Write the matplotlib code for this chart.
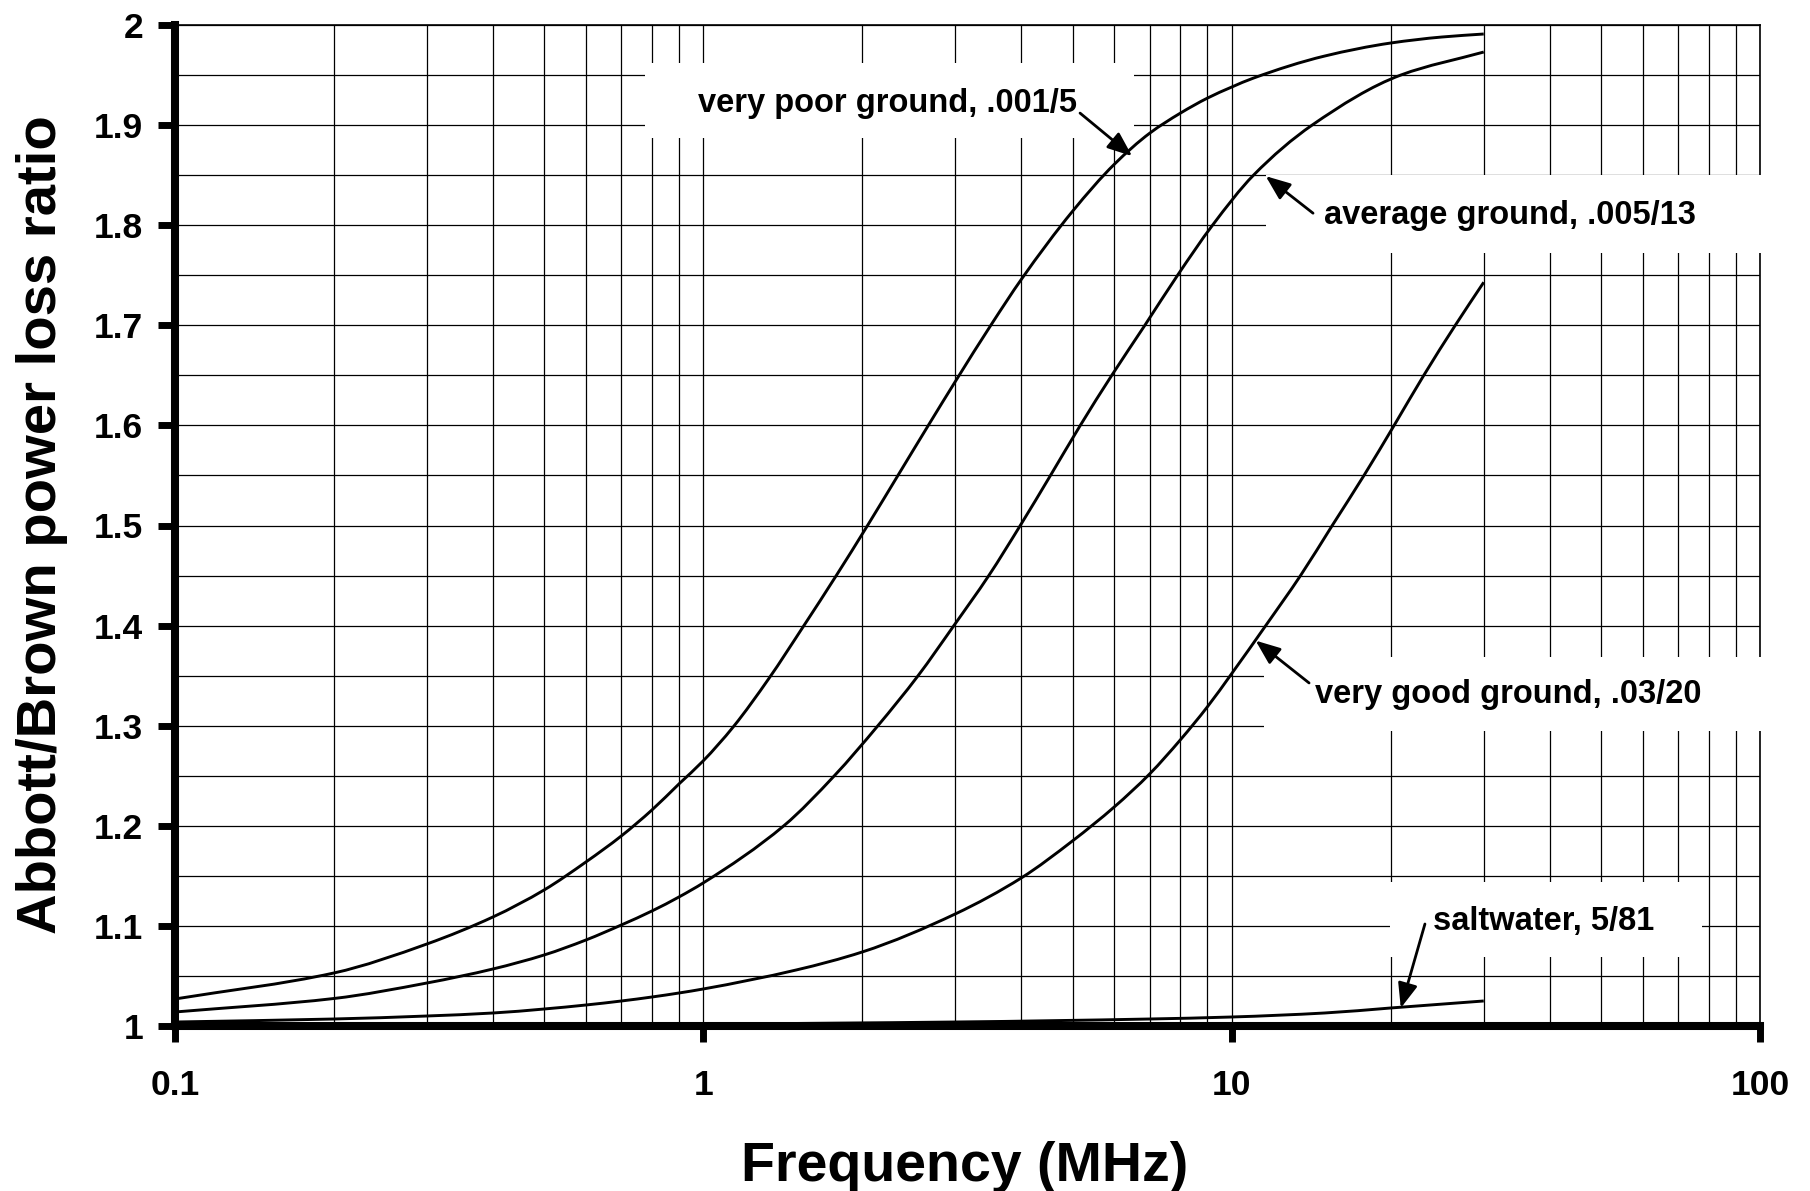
import numpy as np
import matplotlib
matplotlib.use("Agg")
import matplotlib.pyplot as plt
from matplotlib.patches import Rectangle, PathPatch
from matplotlib.path import Path

plt.rcParams['font.family'] = ['Liberation Sans', 'DejaVu Sans']
plt.rcParams['font.weight'] = 'bold'

# Abbott/Brown power loss ratio vs frequency for four ground types
freq_very_poor = [0.1, 0.2, 0.3, 0.4, 0.5, 0.6, 0.7, 0.8, 0.9, 1.0, 1.14, 1.33, 1.55,
                  1.785, 2.04, 2.36, 2.68, 3.0, 3.52, 4.0, 5.0, 6.0, 7.0, 8.0, 9.0,
                  10.0, 11.0, 15.0, 20.0, 25.0, 30.0]
ratio_very_poor = [1.027, 1.053, 1.082, 1.109, 1.136, 1.164, 1.190, 1.216, 1.242, 1.265,
                   1.299, 1.347, 1.400, 1.450, 1.499, 1.554, 1.602, 1.644, 1.702, 1.746,
                   1.814, 1.861, 1.892, 1.912, 1.927, 1.938, 1.947, 1.969, 1.982, 1.988,
                   1.991]

freq_average = [0.1, 0.2, 0.3, 0.4, 0.5, 0.6, 0.7, 0.8, 0.9, 1.0, 1.42, 1.77, 2.14,
                2.55, 2.98, 3.47, 3.98, 4.54, 5.17, 5.93, 6.85, 7.9, 9.2, 11.0, 14.2,
                20.9, 30.0]
ratio_average = [1.014, 1.0275, 1.043, 1.057, 1.071, 1.086, 1.101, 1.115, 1.129, 1.143,
                 1.200, 1.250, 1.300, 1.350, 1.400, 1.450, 1.500, 1.550, 1.600, 1.650,
                 1.700, 1.750, 1.800, 1.850, 1.900, 1.950, 1.973]

freq_very_good = [0.1, 0.2, 0.3, 0.4, 0.5, 0.6, 0.7, 0.8, 0.9, 1.0, 1.5, 2.0, 3.0, 4.0,
                  5.0, 6.0, 7.0, 8.0, 9.0, 10.0, 11.6, 13.5, 15.5, 17.8, 20.3, 23.1,
                  26.5, 30.0]
ratio_very_good = [1.004, 1.007, 1.010, 1.013, 1.017, 1.021, 1.025, 1.029, 1.033, 1.037,
                   1.056, 1.074, 1.112, 1.148, 1.185, 1.219, 1.252, 1.286, 1.319, 1.352,
                   1.400, 1.450, 1.500, 1.550, 1.600, 1.650, 1.700, 1.743]

freq_saltwater = [0.1, 1.0, 3.0, 7.0, 10.0, 15.0, 20.0, 30.0]
ratio_saltwater = [1.001, 1.002, 1.004, 1.007, 1.009, 1.013, 1.018, 1.025]

x_tick_values = [0.1, 1, 10, 100]
x_tick_labels = ['0.1', '1', '10', '100']
x_minor_values = [0.2, 0.3, 0.4, 0.5, 0.6, 0.7, 0.8, 0.9,
                  2, 3, 4, 5, 6, 7, 8, 9,
                  20, 30, 40, 50, 60, 70, 80, 90]
y_tick_values = [1.0, 1.1, 1.2, 1.3, 1.4, 1.5, 1.6, 1.7, 1.8, 1.9, 2.0]
y_tick_labels = ['1', '1.1', '1.2', '1.3', '1.4', '1.5', '1.6', '1.7', '1.8', '1.9', '2']
y_minor_values = [1.05, 1.15, 1.25, 1.35, 1.45, 1.55, 1.65, 1.75, 1.85, 1.95]


def smooth_path(freqs, values):
    """Smoothed (monotone cubic) line through the points, built in log-frequency space."""
    x = np.log10(np.asarray(freqs, float))
    y = np.asarray(values, float)
    h = np.diff(x)
    d = np.diff(y) / h
    m = np.zeros_like(y)
    m[0], m[-1] = d[0], d[-1]
    for k in range(1, len(y) - 1):
        if d[k - 1] * d[k] > 0:
            w1 = 2 * h[k] + h[k - 1]
            w2 = h[k] + 2 * h[k - 1]
            m[k] = (w1 + w2) / (w1 / d[k - 1] + w2 / d[k])
    verts = [(x[0], y[0])]
    codes = [Path.MOVETO]
    for k in range(len(y) - 1):
        verts += [(x[k] + h[k] / 3, y[k] + m[k] * h[k] / 3),
                  (x[k + 1] - h[k] / 3, y[k + 1] - m[k + 1] * h[k] / 3),
                  (x[k + 1], y[k + 1])]
        codes += [Path.CURVE4] * 3
    verts = np.array(verts)
    verts[:, 0] = 10 ** verts[:, 0]
    return Path(verts, codes)


W, H = 1810, 1191
L, R, T, B = 175, 1760, 25, 1026
fig = plt.figure(figsize=(W / 100, H / 100), dpi=100)
ax = fig.add_axes([L / W, 1 - B / H, (R - L) / W, (B - T) / H])
ax.set_xscale('log')
ax.set_xlim(0.1, 100)
ax.set_ylim(1, 2)

for f, r in [(freq_very_poor, ratio_very_poor), (freq_average, ratio_average),
             (freq_very_good, ratio_very_good), (freq_saltwater, ratio_saltwater)]:
    ax.add_patch(PathPatch(smooth_path(f, r), facecolor='none', edgecolor='black',
                           lw=2.1, zorder=3, capstyle='butt'))

ax.set_xticks(x_tick_values)
ax.set_xticklabels(x_tick_labels)
ax.set_xticks(x_minor_values, minor=True)
ax.set_xticklabels([], minor=True)
ax.set_yticks(y_tick_values)
ax.set_yticklabels(y_tick_labels)
ax.set_yticks(y_minor_values, minor=True)

ax.grid(which='both', color='black', lw=0.9, zorder=1)
ax.tick_params(which='minor', length=0)
ax.tick_params(axis='x', which='major', direction='out', length=11.5, width=5,
               pad=19.5, labelsize=25.5)
ax.tick_params(axis='y', which='major', direction='out', length=12, width=5,
               pad=11, labelsize=25.5)
for lab in ax.get_xticklabels() + ax.get_yticklabels():
    lab.set_fontweight('bold')

ax.spines['left'].set_linewidth(5.8)
ax.spines['bottom'].set_linewidth(5.8)
ax.spines['top'].set_linewidth(1.2)
ax.spines['right'].set_linewidth(1.2)

fig.text(965 / W, 1 - 1181 / H, 'Frequency (MHz)', ha='center', va='baseline',
         fontsize=40, fontweight='bold')
fig.text(42 / W, 1 - 525 / H, 'Abbott/Brown power loss ratio', ha='center',
         va='center', rotation=90, fontsize=40.5, fontweight='bold')

# Curve labels: white panel, text, and arrow to the curve
labels = [
    # text, panel (x0, y0, x1, y1) axes fraction, text left/center-y, arrow tail, arrow tip (data)
    ('very poor ground, .001/5', (0.2965, 0.887, 0.6050, 0.962), (0.3297, 0.922),
     (0.571, 0.912), (6.48, 1.869)),
    ('average ground, .005/13', (0.6883, 0.772, 1.003, 0.850), (0.7249, 0.810),
     (0.718, 0.812), (11.6, 1.849)),
    ('very good ground, .03/20', (0.687, 0.2947, 1.003, 0.3686), (0.7192, 0.331),
     (0.7155, 0.3427), (11.1, 1.385)),
    ('saltwater, 5/81', (0.7666, 0.0689, 0.9634, 0.1439), (0.7937, 0.1039),
     (0.7886, 0.1019), (20.9, 1.018)),
]
for text, (x0, y0, x1, y1), (tx, ty), tail, tip in labels:
    ax.add_patch(Rectangle((x0, y0), x1 - x0, y1 - y0, transform=ax.transAxes,
                           facecolor='white', edgecolor='none', zorder=2.6,
                           clip_on=False))
    ax.text(tx, ty, text, transform=ax.transAxes, ha='left', va='center',
            fontsize=23.5, fontweight='bold', zorder=5)
    ax.annotate('', xy=tip, xycoords='data', xytext=tail, textcoords='axes fraction',
                arrowprops=dict(arrowstyle='-|>,head_length=0.5,head_width=0.2',
                                color='black', lw=2, mutation_scale=30,
                                shrinkA=0, shrinkB=0), zorder=5)

fig.savefig('out.png', dpi=100, facecolor='white')
